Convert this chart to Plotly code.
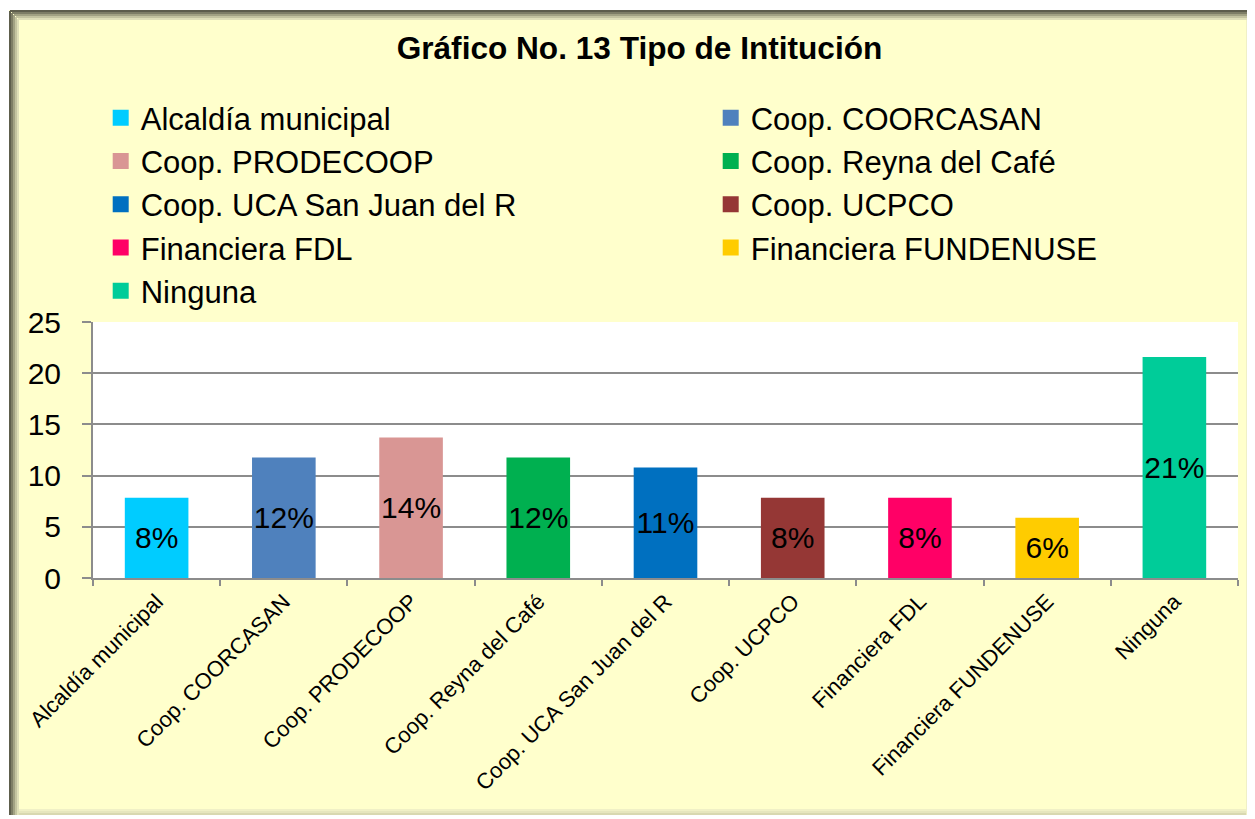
import plotly.graph_objects as go

categories = ["Alcaldía municipal", "Coop. COORCASAN", "Coop. PRODECOOP",
              "Coop. Reyna del Café", "Coop. UCA San Juan del R", "Coop. UCPCO",
              "Financiera FDL", "Financiera FUNDENUSE", "Ninguna"]
values = [7.84, 11.76, 13.73, 11.76, 10.78, 7.84, 7.84, 5.88, 21.57]
labels = ["8%", "12%", "14%", "12%", "11%", "8%", "8%", "6%", "21%"]
colors = ["#00CCFF", "#4F81BD", "#D99694", "#00B050", "#0070C0",
          "#953735", "#FF0066", "#FFCC00", "#00CC99"]
y_ticks = [0, 5, 10, 15, 20, 25]

W, H = 1255, 819
OFF = 8  # page body margin in the browser
ML, MR, MT, MB = 85, 25, 314, 249
PW, PH = W - ML - MR, H - MT - MB


def sx(px):
    """screen pixel x -> paper fraction"""
    return (px - OFF - ML) / PW


def sy(py):
    """screen pixel y -> paper fraction"""
    return (H - MB - (py - OFF)) / PH


FONT = "Arial, Liberation Sans, sans-serif"

fig = go.Figure()
for cat, val, lab, col in zip(categories, values, labels, colors):
    fig.add_trace(go.Bar(
        x=[cat], y=[val], name=cat, text=[lab],
        marker=dict(color=col, line=dict(width=0)),
        textposition="inside", insidetextanchor="middle",
        constraintext="none", textangle=0,
        insidetextfont=dict(color="black", size=30, family=FONT),
        showlegend=False, legendgroup=cat,
        hoverinfo="x+y",
    ))

# legend entries (two columns, row-wise order)
for i, (cat, col) in enumerate(zip(categories, colors)):
    fig.add_trace(go.Scatter(
        x=[None], y=[None], mode="markers", name=cat, legendgroup=cat,
        marker=dict(symbol="square", size=16, color=col),
        legend="legend" if i % 2 == 0 else "legend2",
        hoverinfo="skip",
    ))

legend_common = dict(
    orientation="v", xanchor="left", yanchor="top",
    font=dict(size=31, family=FONT, color="black"),
    bgcolor="rgba(0,0,0,0)", traceorder="normal", itemsizing="trace",
    itemclick=False, itemdoubleclick=False, tracegroupgap=0,
)

# border (shadowed frame)
border = []
dark = ["#5E5E4C", "#7E7E66", "#A2A283", "#C4C4A0", "#E0E0B8"]
light = ["#D8D8B0", "#E6E6BE", "#F0F0C6"]
L0, T0, R0, B0 = 9, 10, 1252, 815
border.append(dict(type="rect", xref="paper", yref="paper", layer="below",
                   x0=sx(L0), x1=sx(R0), y0=sy(B0), y1=sy(T0),
                   fillcolor="#FFFFCC", line=dict(width=0)))
for k, c in enumerate(dark):
    x = L0 + 1 + 2 * k
    y = T0 + 1 + 2 * k
    border.append(dict(type="line", xref="paper", yref="paper", layer="below",
                       x0=sx(x), x1=sx(x), y0=sy(B0), y1=sy(y),
                       line=dict(color=c, width=2)))
    border.append(dict(type="line", xref="paper", yref="paper", layer="below",
                       x0=sx(x), x1=sx(R0), y0=sy(y), y1=sy(y),
                       line=dict(color=c, width=2)))
for k, c in enumerate(light):
    x = R0 - 1 - 2 * k
    y = B0 - 1 - 2 * k
    border.append(dict(type="line", xref="paper", yref="paper", layer="below",
                       x0=sx(x), x1=sx(x), y0=sy(B0), y1=sy(T0 + 2 * len(dark)),
                       line=dict(color=c, width=2)))
    border.append(dict(type="line", xref="paper", yref="paper", layer="below",
                       x0=sx(L0 + 2 * len(dark)), x1=sx(R0), y0=sy(y), y1=sy(y),
                       line=dict(color=c, width=2)))
border.append(dict(type="rect", xref="paper", yref="paper", layer="below",
                   x0=0, x1=1, y0=0, y1=1, fillcolor="white", line=dict(width=0)))

fig.update_layout(
    width=W, height=H,
    margin=dict(l=ML, r=MR, t=MT, b=MB, autoexpand=False),
    paper_bgcolor="white",
    plot_bgcolor="white",
    barmode="overlay",
    bargap=0.5,
    font=dict(family=FONT, color="black"),
    title=dict(text="<b>Gráfico No. 13 Tipo de Intitución</b>",
               font=dict(size=31.6, family=FONT, color="black"),
               x=(639.5 - OFF) / W, xanchor="center", xref="container",
               y=1 - (48 - OFF) / H, yanchor="middle", yref="container"),
    legend=dict(x=sx(100.7), y=sy(91), **legend_common),
    legend2=dict(x=sx(710.7), y=sy(91), **legend_common),
    xaxis=dict(type="category", categoryorder="array", categoryarray=categories,
               showline=True, linecolor="#8C8C8C", linewidth=2,
               ticks="outside", ticklen=6, tickcolor="#8C8C8C", tickwidth=2,
               tickson="boundaries", tickangle=-45,
               tickfont=dict(size=22, family=FONT, color="black"),
               showgrid=False, fixedrange=True),
    yaxis=dict(range=[0, 25], tickvals=y_ticks, ticktext=[str(v) for v in y_ticks],
               showline=True, linecolor="#8C8C8C", linewidth=2,
               ticks="outside", ticklen=9, tickcolor="#8C8C8C", tickwidth=2,
               showgrid=True, gridcolor="#8C8C8C", gridwidth=2,
               tickfont=dict(size=30, family=FONT, color="black"),
               ticklabelstandoff=15, zeroline=False, fixedrange=True),
    shapes=border,
)

fig.write_html("out.html")
